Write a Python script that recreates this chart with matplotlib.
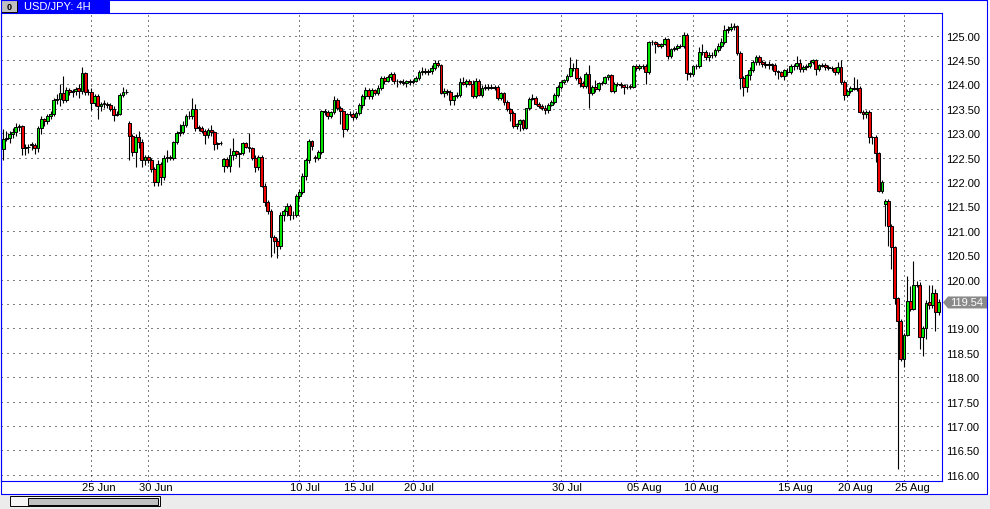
import matplotlib
matplotlib.use("Agg")
import matplotlib.pyplot as plt
from matplotlib.patches import Rectangle, Polygon
from matplotlib.lines import Line2D
import numpy as np

# USD/JPY 4H candles
opens = [
    122.67, 122.88, 122.90, 122.99, 123.02, 123.12, 123.15, 122.70, 122.72, 122.78,
    122.75, 122.70, 123.11, 123.29, 123.26, 123.36, 123.40, 123.69, 123.70, 123.82,
    123.69, 123.88, 123.85, 123.87, 123.92, 123.87, 124.24, 123.85, 123.84, 123.62,
    123.77, 123.55, 123.62, 123.60, 123.58, 123.50, 123.38, 123.40, 123.79, 123.84,
    123.21, 122.94, 122.61, 122.93, 122.82, 122.45, 122.52, 122.45, 122.27, 122.01,
    122.38, 122.10, 122.49, 122.52, 122.49, 122.82, 123.00, 123.02, 123.17, 123.35,
    123.36, 123.49, 123.12, 123.10, 123.04, 122.97, 123.06, 123.02, 122.78, 122.80,
    122.34, 122.48, 122.34, 122.55, 122.63, 122.58, 122.60, 122.80, 122.72, 122.70,
    122.50, 122.31, 122.52, 121.93, 121.60, 121.40, 120.88, 120.80, 120.69, 121.33,
    121.40, 121.50, 121.32, 121.33, 121.71, 121.79, 122.13, 122.45, 122.84, 122.52,
    122.49, 122.61, 123.45, 123.43, 123.36, 123.43, 123.68, 123.51, 123.45, 123.08,
    123.40, 123.40, 123.34, 123.42, 123.58, 123.76, 123.88, 123.76, 123.88, 123.82,
    123.92, 124.14, 124.07, 124.16, 124.21, 124.07, 124.07, 124.06, 124.04, 124.07,
    124.05, 124.08, 124.14, 124.26, 124.28, 124.26, 124.27, 124.34, 124.45, 124.40,
    123.82, 123.87, 123.85, 123.68, 123.77, 123.79, 124.06, 124.00, 124.08, 124.02,
    123.77, 124.08, 123.79, 123.95, 123.93, 123.95, 123.93, 123.95, 123.73, 123.82,
    123.64, 123.49, 123.42, 123.15, 123.20, 123.27, 123.11, 123.51, 123.71, 123.73,
    123.60, 123.56, 123.52, 123.47, 123.59, 123.64, 123.79, 123.95, 124.05, 124.09,
    124.18, 124.34, 124.33, 124.14, 124.04, 123.97, 124.22, 123.82, 123.95, 123.90,
    124.03, 124.03, 124.15, 124.19, 123.86, 124.02, 124.02, 123.98, 123.95, 123.96,
    123.95, 124.38, 124.34, 124.38, 124.38, 124.26, 124.88, 124.87, 124.82, 124.79,
    124.84, 124.93, 124.59, 124.73, 124.74, 124.79, 124.79, 125.02, 124.23, 124.21,
    124.37, 124.37, 124.66, 124.66, 124.56, 124.61, 124.60, 124.71, 124.78, 124.87,
    125.12, 125.14, 125.18, 125.20, 124.64, 124.14, 123.95, 124.20, 124.30, 124.46,
    124.56, 124.46, 124.41, 124.39, 124.41, 124.39, 124.27, 124.25, 124.18, 124.26,
    124.25, 124.37, 124.37, 124.45, 124.31, 124.35, 124.37, 124.47, 124.50, 124.32,
    124.40, 124.40, 124.36, 124.34, 124.34, 124.25, 124.36, 124.06, 123.79, 123.86,
    123.93, 123.90, 123.92, 123.44, 123.40, 123.44, 122.92, 122.92, 122.60, 121.82,
    121.55, 121.62, 121.10, 120.66, 119.62, 119.16, 118.38, 118.87, 119.57, 119.40,
    119.89, 119.89, 118.82, 119.02, 119.55, 119.48, 119.73, 119.33,
]
highs = [
    123.08, 123.05, 123.05, 123.10, 123.22, 123.20, 123.18, 122.78, 122.78, 122.82,
    122.80, 123.15, 123.35, 123.32, 123.40, 123.45, 123.72, 123.80, 124.00, 124.18,
    123.95, 123.92, 123.90, 123.95, 124.02, 124.36, 124.26, 123.90, 123.92, 123.80,
    123.80, 123.65, 123.68, 123.65, 123.62, 123.55, 123.45, 123.82, 123.95, 123.90,
    123.25, 122.98, 122.98, 123.05, 122.88, 122.55, 122.55, 122.50, 122.30, 122.45,
    122.42, 122.55, 122.65, 122.56, 122.85, 123.05, 123.20, 123.25, 123.40, 123.45,
    123.72, 123.60, 123.18, 123.15, 123.08, 123.10, 123.16, 123.05, 122.82, 122.85,
    122.50, 122.52, 122.70, 122.90, 122.65, 122.62, 122.82, 122.82, 123.00, 122.72,
    122.55, 122.55, 122.55, 121.98, 121.64, 121.45, 120.92, 120.85, 121.38, 121.45,
    121.58, 121.55, 121.40, 121.75, 121.85, 122.18, 122.50, 122.88, 122.86, 122.56,
    122.65, 123.48, 123.50, 123.48, 123.46, 123.76, 123.72, 123.55, 123.48, 123.42,
    123.45, 123.44, 123.45, 123.62, 123.80, 123.95, 123.92, 123.92, 123.90, 123.98,
    124.18, 124.18, 124.20, 124.25, 124.25, 124.12, 124.10, 124.12, 124.10, 124.12,
    124.12, 124.18, 124.30, 124.35, 124.34, 124.32, 124.40, 124.50, 124.50, 124.42,
    123.92, 123.90, 123.88, 123.78, 123.85, 124.14, 124.15, 124.12, 124.12, 124.10,
    124.14, 124.12, 123.98, 124.00, 124.02, 124.00, 123.98, 123.98, 123.85, 123.85,
    123.68, 123.52, 123.45, 123.22, 123.30, 123.30, 123.52, 123.75, 123.80, 123.76,
    123.65, 123.60, 123.58, 123.62, 123.68, 123.82, 123.98, 124.08, 124.12, 124.22,
    124.57, 124.45, 124.53, 124.18, 124.08, 124.25, 124.40, 123.98, 124.10, 124.06,
    124.08, 124.18, 124.22, 124.22, 124.05, 124.06, 124.05, 124.00, 124.00, 124.00,
    124.40, 124.42, 124.42, 124.42, 124.42, 124.90, 124.92, 124.90, 124.86, 124.86,
    124.98, 124.96, 124.75, 124.78, 124.82, 124.82, 125.07, 125.06, 124.26, 124.40,
    124.42, 124.77, 124.84, 124.70, 124.66, 124.66, 124.75, 124.85, 124.95, 125.21,
    125.20, 125.26, 125.26, 125.22, 124.68, 124.18, 124.22, 124.35, 124.50, 124.60,
    124.60, 124.50, 124.48, 124.48, 124.45, 124.44, 124.30, 124.28, 124.32, 124.34,
    124.42, 124.42, 124.58, 124.52, 124.40, 124.42, 124.50, 124.52, 124.53, 124.42,
    124.45, 124.44, 124.40, 124.38, 124.36, 124.47, 124.50, 124.10, 123.90, 123.96,
    124.16, 124.12, 123.96, 123.48, 123.48, 123.47, 122.95, 122.96, 122.62, 122.05,
    121.65, 121.66, 121.14, 120.70, 119.65, 119.20, 118.90, 120.08, 119.88, 120.38,
    119.98, 119.95, 119.05, 119.58, 119.89, 119.89, 119.80, 119.60,
]
lows = [
    122.45, 122.85, 122.80, 122.90, 122.95, 123.05, 122.55, 122.55, 122.60, 122.65,
    122.58, 122.62, 122.98, 123.15, 123.20, 123.30, 123.35, 123.60, 123.55, 123.62,
    123.65, 123.78, 123.75, 123.78, 123.72, 123.80, 123.78, 123.78, 123.48, 123.55,
    123.30, 123.45, 123.52, 123.52, 123.45, 123.25, 123.35, 123.38, 123.75, 123.80,
    122.45, 122.53, 122.30, 122.70, 122.30, 122.35, 122.40, 122.20, 121.91, 121.92,
    121.95, 122.05, 122.42, 122.45, 122.45, 122.78, 122.95, 122.98, 123.12, 123.30,
    123.30, 123.05, 123.05, 123.00, 122.78, 122.90, 122.95, 122.65, 122.68, 122.75,
    122.20, 122.28, 122.20, 122.45, 122.52, 122.30, 122.55, 122.70, 122.62, 122.45,
    122.20, 122.25, 121.90, 121.50, 121.35, 120.47, 120.55, 120.44, 120.62, 121.20,
    121.30, 121.22, 121.25, 121.28, 121.65, 121.75, 122.05, 122.40, 122.65, 122.42,
    122.45, 122.58, 123.38, 123.30, 123.32, 123.40, 123.48, 123.20, 122.93, 123.05,
    123.35, 123.28, 123.30, 123.38, 123.52, 123.70, 123.70, 123.70, 123.78, 123.78,
    123.88, 124.02, 124.05, 124.10, 124.00, 123.95, 124.00, 123.98, 123.95, 123.98,
    124.02, 124.05, 124.10, 124.20, 124.22, 124.20, 124.22, 124.30, 124.36, 123.80,
    123.75, 123.78, 123.58, 123.58, 123.72, 123.75, 123.98, 123.95, 123.98, 123.72,
    123.72, 123.76, 123.75, 123.88, 123.88, 123.90, 123.88, 123.68, 123.68, 123.58,
    123.45, 123.25, 123.10, 123.08, 123.05, 123.06, 123.08, 123.48, 123.68, 123.58,
    123.52, 123.48, 123.40, 123.42, 123.55, 123.60, 123.75, 123.90, 124.00, 124.05,
    124.15, 124.28, 124.10, 123.95, 123.92, 123.92, 123.52, 123.78, 123.85, 123.86,
    123.98, 124.00, 124.10, 123.84, 123.82, 123.96, 123.92, 123.80, 123.90, 123.90,
    123.92, 124.30, 124.30, 124.32, 124.02, 124.22, 124.80, 124.65, 124.76, 124.75,
    124.80, 124.53, 124.55, 124.68, 124.70, 124.74, 124.75, 124.10, 124.15, 124.18,
    124.32, 124.34, 124.60, 124.50, 124.48, 124.55, 124.56, 124.66, 124.74, 124.82,
    125.06, 125.10, 125.12, 124.60, 123.91, 123.77, 123.85, 124.10, 124.25, 124.40,
    124.40, 124.35, 124.34, 124.32, 124.30, 124.20, 124.12, 124.15, 124.10, 124.20,
    124.22, 124.30, 124.32, 124.25, 124.26, 124.30, 124.33, 124.42, 124.19, 124.28,
    124.35, 124.30, 124.30, 124.28, 124.20, 124.22, 124.02, 123.68, 123.74, 123.82,
    123.88, 123.86, 123.42, 123.30, 123.32, 122.81, 122.79, 122.42, 121.80, 121.78,
    121.10, 120.70, 120.22, 119.50, 116.12, 118.34, 118.22, 118.85, 119.35, 119.38,
    119.85, 118.58, 118.44, 118.78, 119.40, 119.42, 118.94, 119.28,
]
closes = [
    122.88, 122.90, 122.99, 123.02, 123.12, 123.15, 122.70, 122.72, 122.72, 122.75,
    122.70, 123.11, 123.29, 123.26, 123.36, 123.40, 123.69, 123.70, 123.82, 123.69,
    123.88, 123.85, 123.87, 123.90, 123.87, 124.24, 123.85, 123.84, 123.62, 123.77,
    123.55, 123.60, 123.60, 123.58, 123.50, 123.38, 123.40, 123.79, 123.84, 123.84,
    122.94, 122.61, 122.93, 122.82, 122.45, 122.52, 122.45, 122.27, 122.01, 122.38,
    122.10, 122.49, 122.52, 122.49, 122.82, 123.00, 123.02, 123.17, 123.35, 123.36,
    123.49, 123.10, 123.10, 123.04, 122.97, 123.06, 123.02, 122.78, 122.80, 122.80,
    122.48, 122.34, 122.55, 122.63, 122.58, 122.60, 122.80, 122.72, 122.70, 122.50,
    122.31, 122.52, 121.93, 121.60, 121.40, 120.88, 120.80, 120.69, 121.33, 121.40,
    121.50, 121.32, 121.33, 121.71, 121.79, 122.13, 122.45, 122.84, 122.73, 122.49,
    122.61, 123.45, 123.43, 123.36, 123.43, 123.68, 123.51, 123.45, 123.08, 123.40,
    123.40, 123.34, 123.42, 123.58, 123.76, 123.88, 123.76, 123.88, 123.82, 123.92,
    124.14, 124.07, 124.16, 124.21, 124.07, 124.07, 124.06, 124.04, 124.07, 124.05,
    124.08, 124.14, 124.26, 124.28, 124.26, 124.27, 124.34, 124.45, 124.40, 123.82,
    123.87, 123.85, 123.68, 123.77, 123.79, 124.06, 124.00, 124.08, 124.02, 123.77,
    124.08, 123.79, 123.92, 123.93, 123.95, 123.93, 123.95, 123.73, 123.82, 123.64,
    123.49, 123.42, 123.15, 123.20, 123.27, 123.11, 123.51, 123.71, 123.73, 123.60,
    123.56, 123.52, 123.47, 123.59, 123.64, 123.79, 123.95, 124.05, 124.09, 124.18,
    124.34, 124.33, 124.14, 124.04, 123.97, 124.22, 123.82, 123.95, 123.90, 124.03,
    124.03, 124.15, 124.19, 123.86, 124.02, 124.02, 123.98, 123.95, 123.95, 123.95,
    124.38, 124.34, 124.38, 124.38, 124.26, 124.88, 124.87, 124.82, 124.79, 124.84,
    124.93, 124.59, 124.73, 124.74, 124.79, 124.79, 125.02, 124.23, 124.21, 124.37,
    124.37, 124.66, 124.66, 124.56, 124.61, 124.60, 124.71, 124.78, 124.87, 125.12,
    125.14, 125.18, 125.20, 124.64, 124.14, 123.95, 124.20, 124.30, 124.46, 124.56,
    124.46, 124.41, 124.39, 124.41, 124.39, 124.27, 124.25, 124.18, 124.30, 124.25,
    124.37, 124.37, 124.45, 124.31, 124.35, 124.37, 124.44, 124.50, 124.32, 124.40,
    124.38, 124.36, 124.34, 124.34, 124.25, 124.36, 124.06, 123.79, 123.86, 123.93,
    123.90, 123.92, 123.44, 123.40, 123.44, 122.92, 122.92, 122.60, 121.82, 122.01,
    121.62, 121.10, 120.66, 119.62, 119.16, 118.38, 118.87, 119.57, 119.40, 119.89,
    119.90, 118.82, 119.02, 119.53, 119.48, 119.73, 119.33, 119.54,
]

date_idx = [28, 46, 94, 111, 130, 177, 201, 219, 249, 268, 286]
date_labels = ["25 Jun", "30 Jun", "10 Jul", "15 Jul", "20 Jul", "30 Jul",
               "05 Aug", "10 Aug", "15 Aug", "20 Aug", "25 Aug"]
price_ticks = [116.0 + 0.5 * k for k in range(19)]
last_price = 119.54

W, H = 990, 510
BLUE = "#0000ff"
plt.rcParams["font.family"] = ["Liberation Sans", "DejaVu Sans"]

o = np.array(opens)
h = np.array(highs)
l = np.array(lows)
c = np.array(closes)
idx = np.arange(len(c))

fig = plt.figure(figsize=(W / 100, H / 100), dpi=100)
fig.patch.set_facecolor("white")

def fx(x):
    return x / W

def fy(y):
    return 1 - y / H

# plot area: x 0..942, y 14..482
ax = fig.add_axes([fx(0.5), fy(482), fx(942) - fx(0.5), fy(14) - fy(482)])
ax.set_facecolor("white")

ax.vlines(idx, l, h, color="black", linewidth=0.8, zorder=2)
cols = np.where(c > o, "#00e600", "#f00000")
ax.bar(idx, c - o, bottom=o, width=0.9, color=cols, edgecolor="black",
       linewidth=0.7, zorder=3)

ax.set_xlim(-0.89, 298.07)
ax.set_ylim(115.875, 125.465)

# the last-price marker sits where 119.50 would be, so that label is hidden
ax.set_yticks(price_ticks)
ax.set_yticklabels(["" if abs(v - 119.5) < 1e-9 else f"{v:.2f}" for v in price_ticks])
ax.yaxis.tick_right()
ax.tick_params(axis="y", length=0, pad=3, labelsize=8)
ax.set_xticks(date_idx)
ax.tick_params(axis="x", length=0, labelbottom=False)
ax.grid(axis="y", color="black", linestyle=(0, (1, 5)), linewidth=0.72, zorder=1)
ax.grid(axis="x", color="black", linestyle=(0, (1, 4)), linewidth=0.72, zorder=1)
ax.set_axisbelow(True)

for s in ax.spines.values():
    s.set_color(BLUE)
    s.set_linewidth(0.8)

for xi, lab in zip(date_idx, date_labels):
    ax.text(xi - 2.86, -0.013, lab, transform=ax.get_xaxis_transform(),
            ha="left", va="center", fontsize=8)

# window frame and header
def fline(xs, ys, color=BLUE, lw=0.8):
    fig.add_artist(Line2D([fx(v) for v in xs], [fy(v) for v in ys],
                          color=color, linewidth=lw, transform=fig.transFigure))

fline([0.5, 987, 987, 0.5, 0.5], [0.5, 0.5, 495, 495, 0.5])

fig.add_artist(Rectangle((fx(0), fy(510)), fx(990), fy(495.5) - fy(510),
                         transform=fig.transFigure, facecolor="#ececec",
                         edgecolor="none"))
fig.add_artist(Rectangle((fx(10), fy(507)), fx(150), fy(497) - fy(507),
                         transform=fig.transFigure, facecolor="#f6f6f6",
                         edgecolor="black", linewidth=0.7))
fig.add_artist(Rectangle((fx(28), fy(505.5)), fx(130), fy(499.5) - fy(505.5),
                         transform=fig.transFigure, facecolor="#c0c0c0",
                         edgecolor="black", linewidth=0.7))

fig.add_artist(Rectangle((fx(18), fy(14)), fx(92), fy(0) - fy(14),
                         transform=fig.transFigure, facecolor=BLUE,
                         edgecolor="none"))
fig.text(fx(24), fy(7.5), "USD/JPY: 4H", color="white", fontsize=8,
         ha="left", va="center")
fig.add_artist(Rectangle((fx(1), fy(13)), fx(16), fy(1) - fy(13),
                         transform=fig.transFigure, facecolor="#c0c0c0",
                         edgecolor="black", linewidth=0.7))
fig.text(fx(9), fy(7.5), "0", color="black", fontsize=6.5, fontweight="bold",
         ha="center", va="center")

# current price marker
py = 37 + (125 - last_price) * 48.8
fig.add_artist(Polygon([(fx(943), fy(py)), (fx(948), fy(py - 6)),
                        (fx(987), fy(py - 6)), (fx(987), fy(py + 6)),
                        (fx(948), fy(py + 6))],
                       closed=True, transform=fig.transFigure,
                       facecolor="#8a8a8a", edgecolor="none"))
fig.text(fx(950), fy(py), f"{last_price:.2f}", color="white", fontsize=8,
         ha="left", va="center")

fig.savefig("out.png", dpi=100)
